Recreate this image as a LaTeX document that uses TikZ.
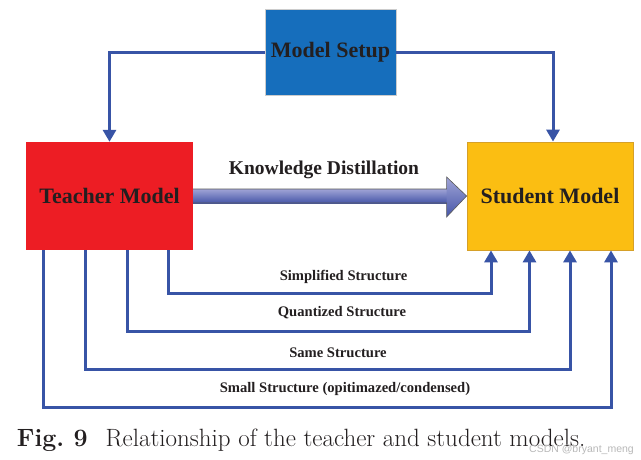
\documentclass[tikz,border=0pt]{standalone}
\usepackage{fontspec}
\newfontfamily\tnr{Liberation Serif}
\newfontfamily\wmfont{Liberation Sans}
\usetikzlibrary{arrows.meta,calc}
\definecolor{linkblue}{RGB}{56,84,166}
\definecolor{setupblue}{RGB}{22,110,188}
\definecolor{teachred}{RGB}{237,29,36}
\definecolor{studyellow}{RGB}{251,190,18}
\definecolor{studborder}{RGB}{214,160,40}
\definecolor{txtdark}{RGB}{35,31,32}
\definecolor{kdtop}{RGB}{160,164,214}
\definecolor{kdbot}{RGB}{70,86,168}
\tikzset{
  modelbox/.style={rectangle, inner sep=0pt, font={\tnr\bfseries\fontsize{22}{26}\selectfont}, text=txtdark},
  link/.style={draw=linkblue, line width=3pt, -{Triangle[width=13pt,length=12pt]}},
  flowlabel/.style={font={\tnr\bfseries\fontsize{14.6}{17}\selectfont}, text=txtdark, inner sep=0pt},
}
\begin{document}
\begin{tikzpicture}[x=1pt,y=-1pt]
\useasboundingbox[fill=white] (0,0) rectangle (641,459);
% boxes
\node[modelbox, fill=setupblue, draw=gray!40, line width=0.8pt, minimum width=131pt, minimum height=86pt] (setup) at (330.5,52) {Model Setup};
\node[modelbox, fill=teachred, minimum width=167pt, minimum height=108pt] (teacher) at (109.5,196) {Teacher Model};
\node[modelbox, fill=studyellow, draw=studborder, line width=0.8pt, minimum width=166pt, minimum height=108pt] (student) at (550,196) {Student Model};
% setup links
\draw[link] (setup.west) -| (teacher.north);
\draw[link] (setup.east) -| ([xshift=3pt]student.north);
% knowledge distillation arrow
\shade[top color=kdtop, bottom color=kdbot] ([yshift=7pt]teacher.east) rectangle ([xshift=-19pt,yshift=-7pt]student.west);
\shade[top color=kdtop, bottom color=kdbot] ([xshift=-20pt,yshift=19pt]student.west) -- (student.west) -- ([xshift=-20pt,yshift=-21pt]student.west) -- cycle;
\draw[gray!70!black, line width=0.6pt, line join=miter] ([yshift=7pt]teacher.east) -- ([xshift=-20pt,yshift=7pt]student.west) -- ([xshift=-20pt,yshift=19pt]student.west) -- (student.west) -- ([xshift=-20pt,yshift=-21pt]student.west) -- ([xshift=-20pt,yshift=-7pt]student.west) -- ([yshift=-7pt]teacher.east);
\node[flowlabel, font={\tnr\bfseries\fontsize{19.5}{22}\selectfont}] (kd) at (324,170) {Knowledge Distillation};
% structure links
\draw[link] ([xshift=58.5pt]teacher.south) -- ++(0,43) -| ([xshift=-59pt]student.south);
\draw[link] ([xshift=17.5pt]teacher.south) -- ++(0,81) -| ([xshift=-20.5pt]student.south);
\draw[link] ([xshift=-24.5pt]teacher.south) -- ++(0,119) -| ([xshift=20pt]student.south);
\draw[link] ([xshift=-66.5pt]teacher.south) -- ++(0,157) -| ([xshift=61pt]student.south);
\node[flowlabel] (l1) at (343.5,277) {Simplified Structure};
\node[flowlabel] (l2) at (342,313) {Quantized Structure};
\node[flowlabel] (l3) at (338,353) {Same Structure};
\node[flowlabel] (l4) at (345,389) {Small Structure (opitimazed/condensed)};
% caption
\node[anchor=base west, inner sep=0pt, font={\fontsize{25}{28}\selectfont}, text=txtdark] (cap) at (16.7,446) {\textbf{Fig.\ 9}\hspace{0.72em}Relationship of the teacher and student models.};
\node[anchor=base east, inner sep=0pt, font={\wmfont\fontsize{10.5}{12}\selectfont}, text=gray!55] (wm) at (634,452) {CSDN @bryant\_meng};
\end{tikzpicture}
\end{document}
